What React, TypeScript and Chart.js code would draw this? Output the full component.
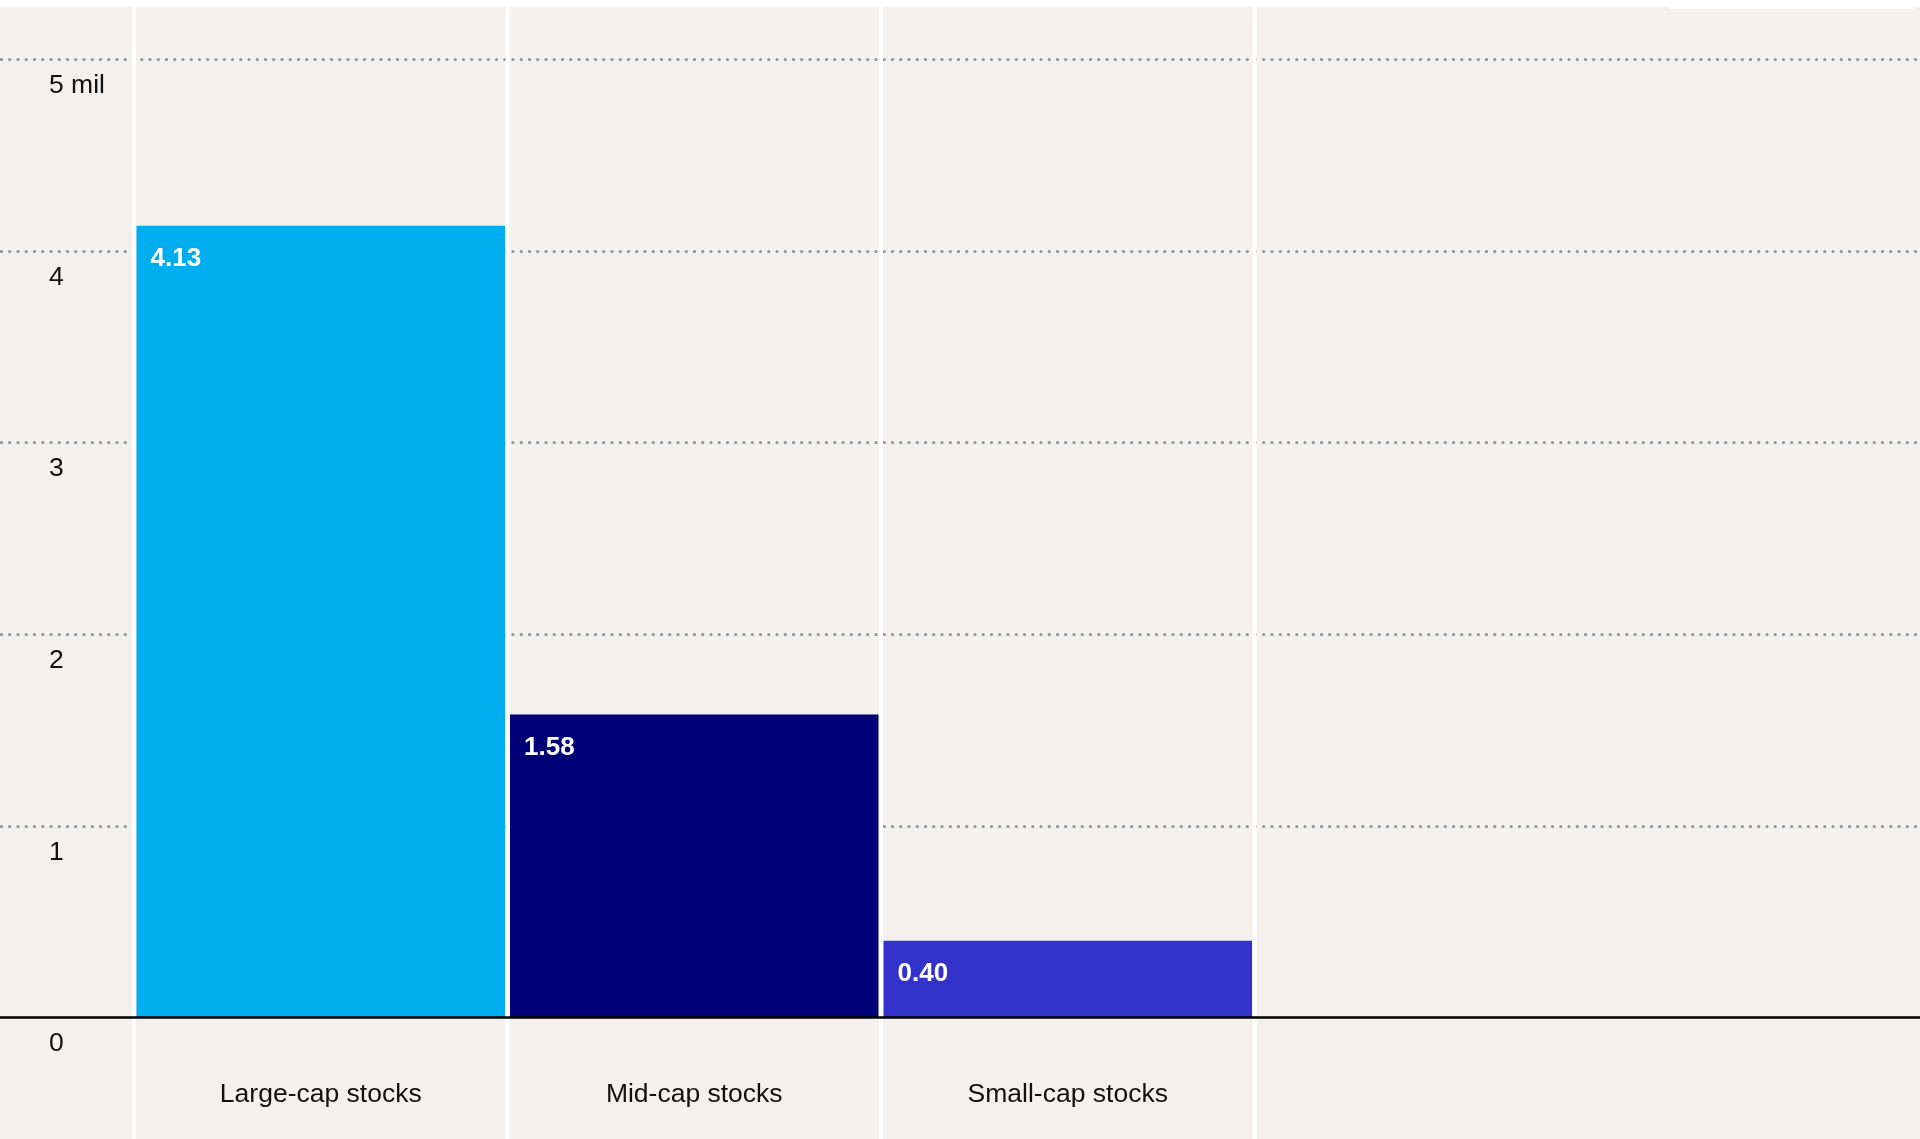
import React, { useEffect, useRef } from "react";
import { Chart, registerables } from "chart.js";

Chart.register(...registerables);

const categories = ["Large-cap stocks", "Mid-cap stocks", "Small-cap stocks"];
const values = [4.13, 1.58, 0.4];
const barColors = ["#00aeef", "#000077", "#3333cc"];
const yTicks = [0, 1, 2, 3, 4, 5];
const yTickLabels = ["0", "1", "2", "3", "4", "5 mil"];

const FONT = "'Liberation Sans', Arial, Helvetica, sans-serif";

const decorPlugin = {
  id: "decor",
  beforeDatasetsDraw(chart: any) {
    const { ctx, scales, width, height } = chart;
    const x = scales.x;
    const y = scales.y;
    ctx.save();
    // dotted horizontal gridlines across the full width
    ctx.strokeStyle = "#8498a2";
    ctx.lineWidth = 3.2;
    ctx.lineCap = "round";
    ctx.setLineDash([0, 8.25]);
    yTicks.forEach((v) => {
      if (v === 0) return;
      const py = Math.round(y.getPixelForValue(v)) + 0.5;
      ctx.beginPath();
      ctx.moveTo(1.5, py);
      ctx.lineTo(width, py);
      ctx.stroke();
    });
    ctx.setLineDash([]);
    // white column separators
    ctx.strokeStyle = "#ffffff";
    ctx.lineWidth = 4;
    ctx.lineCap = "butt";
    for (let k = 0; k <= categories.length; k++) {
      const px = x.getPixelForValue(k - 0.5);
      ctx.beginPath();
      ctx.moveTo(px, 0);
      ctx.lineTo(px, height);
      ctx.stroke();
    }
    ctx.restore();
  },
  afterDatasetsDraw(chart: any) {
    const { ctx, scales, width } = chart;
    const y = scales.y;
    ctx.save();
    // baseline
    const by = y.getPixelForValue(0);
    ctx.strokeStyle = "#000000";
    ctx.lineWidth = 2.4;
    ctx.beginPath();
    ctx.moveTo(0, by);
    ctx.lineTo(width, by);
    ctx.stroke();
    // value labels
    const meta = chart.getDatasetMeta(0);
    ctx.fillStyle = "#ffffff";
    ctx.font = `bold 26px ${FONT}`;
    ctx.textAlign = "left";
    ctx.textBaseline = "middle";
    meta.data.forEach((bar: any, i: number) => {
      const left = bar.x - bar.width / 2;
      ctx.fillText(values[i].toFixed(2), left + 14, bar.y + 33);
    });
    ctx.restore();
  },
};

export default function App() {
  const canvasRef = useRef<HTMLCanvasElement | null>(null);

  useEffect(() => {
    if (!canvasRef.current) return;
    Chart.defaults.font.family = FONT;
    const chart = new Chart(canvasRef.current, {
      type: "bar",
      data: {
        labels: [...categories, ""],
        datasets: [
          {
            data: values,
            backgroundColor: barColors,
            borderWidth: 0,
            barPercentage: 1,
            categoryPercentage: 0.9866,
          },
        ],
      },
      options: {
        animation: false,
        responsive: false,
        maintainAspectRatio: false,
        layout: { padding: { left: 49, right: 292, top: 52, bottom: 0 } },
        plugins: {
          legend: { display: false },
          tooltip: { enabled: false },
        },
        scales: {
          x: {
            type: "category",
            grid: { display: false, drawTicks: false },
            border: { display: false },
            ticks: {
              color: "#111111",
              font: { size: 26.5 },
              padding: 61.5,
              maxRotation: 0,
              autoSkip: false,
            },
            afterFit: (s: any) => {
              s.height = 121.5;
            },
          },
          y: {
            min: 0,
            max: 5,
            grid: { display: false, drawTicks: false },
            border: { display: false },
            afterFit: (s: any) => {
              s.width = 85;
            },
            afterBuildTicks: (s: any) => {
              s.ticks = yTicks.map((v) => ({ value: v }));
            },
            ticks: {
              crossAlign: "far",
              labelOffset: 26.5,
              padding: 0,
              color: "#111111",
              font: { size: 26.5 },
              callback: (v: any) => yTickLabels[yTicks.indexOf(Number(v))],
            },
          },
        },
      },
      plugins: [decorPlugin],
    } as any);
    return () => chart.destroy();
  }, []);

  return (
    <>
      <div
        style={{
          position: "absolute",
          left: 0,
          top: 7,
          width: 1920,
          height: 1132,
          background: "#f3f0ed",
        }}
      >
        <canvas
          ref={canvasRef}
          width={1920}
          height={1132}
          style={{ width: 1920, height: 1132, display: "block" }}
        />
      </div>
      <div
        style={{
          position: "absolute",
          left: 1669,
          top: 7,
          width: 244,
          height: 2,
          background: "#ffffff",
        }}
      />
    </>
  );
}
